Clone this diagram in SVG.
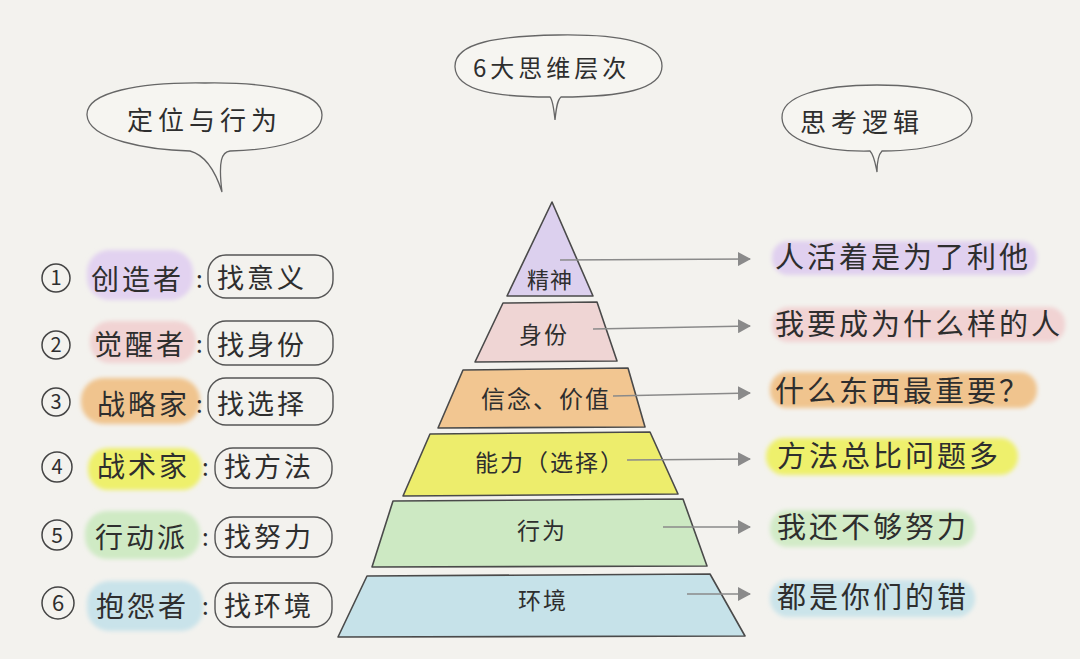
<svg xmlns="http://www.w3.org/2000/svg" width="1080" height="659" viewBox="0 0 1080 659">
<defs>
<style>
.t{font-family:"Noto Sans CJK SC","Noto Sans",sans-serif;fill:#2e2e2e}
.bub{fill:#f6f5f1;stroke:#666;stroke-width:1.3}
.box{fill:none;stroke:#555;stroke-width:1.4}
.num{fill:none;stroke:#444;stroke-width:1.5}
.lay{stroke:#4a4a4a;stroke-width:1.6;stroke-linejoin:round}
.arr{stroke:#8a8a8a;stroke-width:1.5;fill:none}
.blob{filter:url(#soft)}
</style>
<filter id="soft" x="-10%" y="-30%" width="120%" height="160%"><feGaussianBlur stdDeviation="2"/></filter>
<marker id="ah" markerUnits="userSpaceOnUse" markerWidth="14" markerHeight="14" refX="12" refY="7" orient="auto"><path d="M0,0 L13,7 L0,14 Z" fill="#8a8a8a"/></marker>
</defs>
<rect width="1080" height="659" fill="#f3f2ee"/>

<g id="bubble-left">
<path class="bub" d="M190,151 C150,150 88,140 87,115 C86,92 140,82 205,83 C270,82 322,92 322,115 C322,138 280,150 230,151 C222,152 218,160 222,192 C215,170 205,155 190,151 Z"/>
<text class="t" x="127" y="130" font-size="26" letter-spacing="5">定位与行为</text>
</g>
<g id="bubble-top">
<path class="bub" d="M550,97 C500,97 456,92 455,67 C454,42 500,36 558,35 C620,34 662,42 662,66 C662,90 620,97 561,97 C557,100 556,110 555,120 C554,110 553,100 550,97 Z"/>
<text class="t" x="473" y="77" font-size="24" letter-spacing="4">6大思维层次</text>
</g>
<g id="bubble-right">
<path class="bub" d="M870,151 C820,152 783,140 782,118 C781,96 820,85 877,85 C935,85 972,97 972,118 C972,140 930,151 882,151 C878,155 877,165 877,172 C875,162 874,155 870,151 Z"/>
<text class="t" x="800" y="132" font-size="26" letter-spacing="5">思考逻辑</text>
</g>

<!-- left list -->
<g id="row1">
<circle class="num" cx="56" cy="278" r="14"/><text class="t" x="56" y="285" font-size="20" text-anchor="middle">1</text>
<rect class="blob" x="87" y="250" width="106" height="50" rx="22" fill="#e2d2f0"/>
<text class="t" x="91" y="290" font-size="28" letter-spacing="3">创造者</text>
<text class="t" x="196" y="288" font-size="24">:</text>
<rect class="box" x="208" y="255" width="125" height="43" rx="18"/>
<text class="t" x="217" y="288" font-size="27" letter-spacing="3">找意义</text>
</g>
<g id="row2">
<circle class="num" cx="56" cy="345" r="14"/><text class="t" x="56" y="352" font-size="20" text-anchor="middle">2</text>
<rect class="blob" x="90" y="321" width="106" height="42" rx="20" fill="#f1d3d3"/>
<text class="t" x="94" y="355" font-size="28" letter-spacing="3">觉醒者</text>
<text class="t" x="196" y="353" font-size="24">:</text>
<rect class="box" x="208" y="321" width="125" height="44" rx="18"/>
<text class="t" x="217" y="355" font-size="27" letter-spacing="3">找身份</text>
</g>
<g id="row3">
<circle class="num" cx="56" cy="402" r="14"/><text class="t" x="56" y="409" font-size="20" text-anchor="middle">3</text>
<rect class="blob" x="81" y="378" width="119" height="46" rx="22" fill="#f0c48e"/>
<text class="t" x="97" y="415" font-size="28" letter-spacing="3">战略家</text>
<text class="t" x="196" y="413" font-size="24">:</text>
<rect class="box" x="208" y="378" width="125" height="47" rx="18"/>
<text class="t" x="217" y="414" font-size="27" letter-spacing="3">找选择</text>
</g>
<g id="row4">
<circle class="num" cx="57" cy="467" r="15"/><text class="t" x="57" y="474" font-size="20" text-anchor="middle">4</text>
<rect class="blob" x="88" y="448" width="114" height="42" rx="20" fill="#eef06c"/>
<text class="t" x="97" y="477" font-size="28" letter-spacing="3">战术家</text>
<text class="t" x="202" y="476" font-size="24">:</text>
<rect class="box" x="215" y="448" width="117" height="40" rx="18"/>
<text class="t" x="224" y="477" font-size="27" letter-spacing="3">找方法</text>
</g>
<g id="row5">
<circle class="num" cx="57" cy="535" r="15"/><text class="t" x="57" y="543" font-size="21" text-anchor="middle">5</text>
<rect class="blob" x="85" y="511" width="115" height="48" rx="22" fill="#cfeac4"/>
<text class="t" x="95" y="548" font-size="28" letter-spacing="3">行动派</text>
<text class="t" x="202" y="546" font-size="24">:</text>
<rect class="box" x="215" y="517" width="117" height="40" rx="18"/>
<text class="t" x="224" y="547" font-size="27" letter-spacing="3">找努力</text>
</g>
<g id="row6">
<circle class="num" cx="58" cy="603" r="16"/><text class="t" x="58" y="611" font-size="22" text-anchor="middle">6</text>
<rect class="blob" x="87" y="581" width="116" height="50" rx="22" fill="#c9e3ea"/>
<text class="t" x="96" y="617" font-size="28" letter-spacing="3">抱怨者</text>
<text class="t" x="202" y="615" font-size="24">:</text>
<rect class="box" x="215" y="583" width="117" height="44" rx="18"/>
<text class="t" x="224" y="616" font-size="27" letter-spacing="3">找环境</text>
</g>

<!-- pyramid -->
<g id="layer-spirit">
<polygon class="lay" points="552,202 593,296 507,296" fill="#dcd0ee"/>
<text class="t" x="550" y="288" font-size="22" text-anchor="middle" letter-spacing="1">精神</text>
</g>
<g id="layer-identity">
<polygon class="lay" points="503,303 597,302 617,361 475,362" fill="#efd5d4"/>
<text class="t" x="544" y="343" font-size="23" text-anchor="middle" letter-spacing="2">身份</text>
</g>
<g id="layer-belief">
<polygon class="lay" points="463,370 628,368 645,427 438,428" fill="#f2c691"/>
<text class="t" x="546" y="408" font-size="24" text-anchor="middle" letter-spacing="2">信念、价值</text>
</g>
<g id="layer-ability">
<polygon class="lay" points="430,434 650,432 678,494 403,496" fill="#eded6c"/>
<text class="t" x="550" y="471" font-size="23" text-anchor="middle" letter-spacing="2">能力（选择）</text>
</g>
<g id="layer-behavior">
<polygon class="lay" points="393,501 683,499 707,566 372,567" fill="#cde9c3"/>
<text class="t" x="542" y="539" font-size="23" text-anchor="middle" letter-spacing="2">行为</text>
</g>
<g id="layer-environment">
<polygon class="lay" points="367,576 710,574 745,636 338,637" fill="#c6e2e9"/>
<text class="t" x="543" y="609" font-size="23" text-anchor="middle" letter-spacing="2">环境</text>
</g>

<!-- connectors -->
<g id="connectors">
<line class="arr" x1="560" y1="260" x2="750" y2="259" marker-end="url(#ah)"/>
<line class="arr" x1="593" y1="329" x2="750" y2="326" marker-end="url(#ah)"/>
<line class="arr" x1="613" y1="396" x2="750" y2="393" marker-end="url(#ah)"/>
<line class="arr" x1="627" y1="460" x2="750" y2="459" marker-end="url(#ah)"/>
<line class="arr" x1="663" y1="527" x2="750" y2="527" marker-end="url(#ah)"/>
<line class="arr" x1="687" y1="594" x2="750" y2="594" marker-end="url(#ah)"/>
</g>

<!-- right texts -->
<g id="logic1">
<rect class="blob" x="772" y="241" width="265" height="34" rx="16" fill="#e0d0ef"/>
<text class="t" x="775" y="268" font-size="29" letter-spacing="3">人活着是为了利他</text>
</g>
<g id="logic2">
<rect class="blob" x="772" y="307" width="293" height="35" rx="16" fill="#f1d3d3"/>
<text class="t" x="775" y="335" font-size="29" letter-spacing="3">我要成为什么样的人</text>
</g>
<g id="logic3">
<rect class="blob" x="770" y="372" width="267" height="36" rx="17" fill="#f0c48e"/>
<text class="t" x="775" y="402" font-size="29" letter-spacing="3">什么东西最重要？</text>
</g>
<g id="logic4">
<rect class="blob" x="766" y="438" width="252" height="37" rx="18" fill="#eef06c"/>
<text class="t" x="777" y="467" font-size="29" letter-spacing="3">方法总比问题多</text>
</g>
<g id="logic5">
<rect class="blob" x="770" y="510" width="205" height="37" rx="18" fill="#d2ebc7"/>
<text class="t" x="777" y="538" font-size="29" letter-spacing="3">我还不够努力</text>
</g>
<g id="logic6">
<rect class="blob" x="770" y="580" width="205" height="37" rx="18" fill="#cbe4ea"/>
<text class="t" x="777" y="608" font-size="29" letter-spacing="3">都是你们的错</text>
</g>
</svg>
